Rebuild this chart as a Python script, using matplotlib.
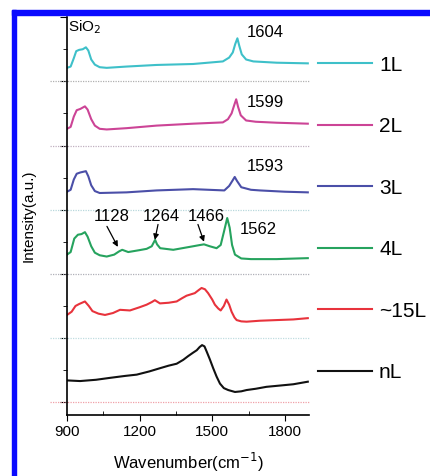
import numpy as np
import matplotlib.pyplot as plt
from matplotlib.patches import Rectangle

plt.rcParams['font.family'] = ['Liberation Sans', 'DejaVu Sans']

# spectra (wavenumber in cm-1, intensity in offset units)
wn_1L = [900, 915, 928, 938, 950, 965, 978, 988, 1000, 1015, 1035, 1064, 1146, 1270, 1421, 1544, 1570, 1585,
         1595, 1604, 1612, 1622, 1640, 1670, 1766, 1895]
int_1L = [5.21, 5.23, 5.36, 5.47, 5.49, 5.50, 5.53, 5.48, 5.34, 5.26, 5.22, 5.21, 5.23, 5.255, 5.27, 5.31, 5.37, 5.45,
          5.58, 5.67, 5.55, 5.42, 5.34, 5.31, 5.29, 5.28]

wn_2L = [900, 915, 928, 940, 955, 974, 985, 1000, 1015, 1035, 1064, 1146, 1270, 1421, 1544, 1565, 1580,
         1591, 1599, 1607, 1618, 1640, 1680, 1766, 1895]
int_2L = [4.26, 4.29, 4.45, 4.55, 4.57, 4.61, 4.56, 4.41, 4.31, 4.26, 4.25, 4.27, 4.31, 4.34, 4.36, 4.41, 4.50,
          4.63, 4.72, 4.60, 4.47, 4.39, 4.37, 4.355, 4.34]

wn_3L = [900, 915, 928, 940, 955, 978, 988, 1000, 1015, 1035, 1146, 1270, 1421, 1550, 1570, 1585, 1593, 1602,
         1620, 1660, 1697, 1800, 1895]
int_3L = [3.28, 3.31, 3.47, 3.56, 3.58, 3.60, 3.52, 3.38, 3.29, 3.26, 3.27, 3.30, 3.32, 3.30, 3.37, 3.46, 3.51, 3.45,
          3.35, 3.31, 3.30, 3.28, 3.27]

wn_4L = [900, 915, 930, 945, 960, 974, 985, 1000, 1015, 1035, 1064, 1095, 1115, 1128, 1153, 1200, 1229, 1250,
         1264, 1272, 1285, 1339, 1421, 1450, 1466, 1490, 1518, 1535, 1548, 1562, 1572, 1582, 1594, 1620, 1660,
         1766, 1895]
int_4L = [2.30, 2.34, 2.55, 2.61, 2.62, 2.65, 2.58, 2.43, 2.33, 2.29, 2.27, 2.30, 2.35, 2.375, 2.34, 2.37, 2.39, 2.43,
          2.53, 2.46, 2.40, 2.375, 2.43, 2.45, 2.46, 2.43, 2.40, 2.45, 2.65, 2.87, 2.72, 2.45, 2.30, 2.24, 2.23,
          2.23, 2.245]

wn_15L = [900, 919, 935, 950, 974, 990, 1005, 1030, 1057, 1090, 1119, 1160, 1200, 1229, 1250, 1263, 1284, 1320,
          1353, 1375, 1394, 1428, 1445, 1456, 1470, 1483, 1500, 1511, 1525, 1535, 1548, 1559, 1570, 1580, 1592,
          1601, 1620, 1642, 1697, 1835, 1895]
int_15L = [1.36, 1.41, 1.50, 1.53, 1.57, 1.50, 1.42, 1.38, 1.36, 1.39, 1.44, 1.43, 1.48, 1.52, 1.56, 1.59, 1.54, 1.55,
           1.57, 1.62, 1.66, 1.70, 1.75, 1.78, 1.76, 1.70, 1.60, 1.52, 1.46, 1.43, 1.50, 1.60, 1.52, 1.41, 1.32,
           1.28, 1.26, 1.255, 1.27, 1.29, 1.31]

wn_nL = [900, 954, 1020, 1078, 1140, 1188, 1240, 1284, 1320, 1353, 1380, 1401, 1420, 1436, 1448, 1458, 1468, 1477,
         1490, 1504, 1518, 1532, 1548, 1566, 1594, 1620, 1642, 1680, 1724, 1780, 1835, 1895]
int_nL = [0.34, 0.33, 0.35, 0.38, 0.41, 0.43, 0.48, 0.53, 0.57, 0.60, 0.66, 0.72, 0.77, 0.81, 0.86, 0.89, 0.87, 0.79,
          0.67, 0.53, 0.40, 0.29, 0.22, 0.19, 0.16, 0.17, 0.19, 0.21, 0.24, 0.26, 0.28, 0.32]

labels = ['1L', '2L', '3L', '4L', '~15L', 'nL']
colors = ['#3ec0c9', '#cc4496', '#4b4fa8', '#26a35e', '#e8333c', '#111111']
baselines = [5, 4, 3, 2, 1, 0]
base_colors = ['#b0b0b0', '#c0b0c0', '#b8d8dc', '#b0b0b8', '#c0dde0', '#f0a0a8']

peak_labels = ['1604', '1599', '1593', '1562']
peak_pos = [(1643, 5.64), (1643, 4.56), (1643, 3.55), (1614, 2.58)]

fig = plt.figure(figsize=(4.31, 4.76), dpi=100)
ax = fig.add_axes([0.1555, 0.128, 0.5615, 0.836])

spectra = [(wn_1L, int_1L), (wn_2L, int_2L), (wn_3L, int_3L),
           (wn_4L, int_4L), (wn_15L, int_15L), (wn_nL, int_nL)]
for (wn, it), lab, c in zip(spectra, labels, colors):
    ax.plot(wn, it, color=c, lw=1.5, label=lab, solid_joinstyle='round')

for b, bc in zip(baselines, base_colors):
    ax.plot([830, 1900], [b, b], ls=(0, (1, 1)), color=bc, lw=0.9, clip_on=False)

ax.set_xlim(900, 1900)
ax.set_ylim(-0.2, 6)
ax.set_xticks([900, 1200, 1500, 1800])
ax.set_xticks([1050, 1350, 1650], minor=True)
ax.set_yticks(range(7))
ax.set_yticks(np.arange(0.5, 6, 1), minor=True)
ax.set_yticklabels([])
ax.tick_params(axis='x', which='major', direction='out', length=4, labelsize=11)
ax.tick_params(axis='x', which='minor', direction='in', length=3)
ax.tick_params(axis='y', which='major', direction='out', length=5)
ax.tick_params(axis='y', which='minor', direction='out', length=3)
for s in ['top', 'right']:
    ax.spines[s].set_visible(False)
ax.spines['left'].set_linewidth(1.2)
ax.spines['bottom'].set_linewidth(1.2)

ax.set_xlabel('Wavenumber(cm$^{-1}$)', fontsize=12, labelpad=8)
ax.set_ylabel('Intensity(a.u.)', fontsize=11, labelpad=14)

ax.text(905, 5.98, 'SiO$_2$', fontsize=11, va='top', ha='left')
for t, (x, y) in zip(peak_labels, peak_pos):
    ax.text(x, y, t, fontsize=12, ha='left', va='bottom')

# arrows for the 4L weak bands
arrow_txt = ['1128', '1264', '1466']
arrow_tip = [(1110, 2.42), (1263, 2.53), (1466, 2.50)]
arrow_tail = [(1065, 2.74), (1276, 2.77), (1441, 2.77)]
arrow_txt_pos = [(1086, 2.78), (1288, 2.78), (1474, 2.78)]
for tip, tail in zip(arrow_tip, arrow_tail):
    ax.annotate('', xy=tip, xytext=tail,
                arrowprops=dict(arrowstyle='-|>', color='black', lw=0.9, mutation_scale=8,
                                shrinkA=0, shrinkB=0))
for t, tp in zip(arrow_txt, arrow_txt_pos):
    ax.text(tp[0], tp[1], t, fontsize=12, ha='center', va='bottom')

ax.legend(loc='upper left', bbox_to_anchor=(0.975, 0.94), frameon=False, fontsize=15,
          handlelength=2.6, handletextpad=0.35, labelspacing=2.04, borderaxespad=0.3)

# blue frame at top and left
fig.patches.append(Rectangle((12 / 431, 0), 4.5 / 431, 1 - 10 / 476, transform=fig.transFigure,
                             color='#0a0aff', zorder=10))
fig.patches.append(Rectangle((12 / 431, 1 - 15 / 476), 1, 5 / 476, transform=fig.transFigure,
                             color='#0a0aff', zorder=10))

fig.savefig('out.png', dpi=100)
